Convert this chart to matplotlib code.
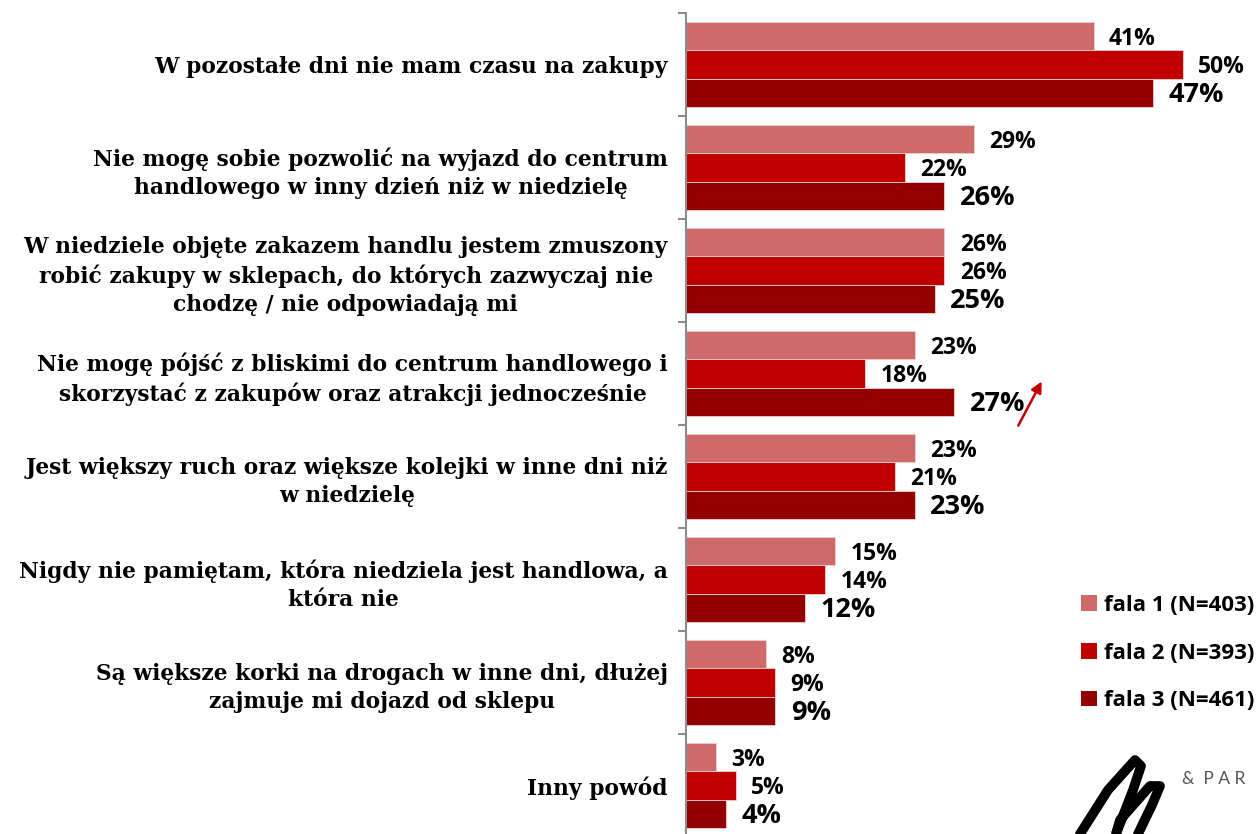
import numpy as np
import matplotlib
matplotlib.use("Agg")
import matplotlib.pyplot as plt
from matplotlib.patches import Patch

categories = [
    "W pozostałe dni nie mam czasu na zakupy",
    "Nie mogę sobie pozwolić na wyjazd do centrum\nhandlowego w inny dzień niż w niedzielę",
    "W niedziele objęte zakazem handlu jestem zmuszony\nrobić zakupy w sklepach, do których zazwyczaj nie\nchodzę / nie odpowiadają mi",
    "Nie mogę pójść z bliskimi do centrum handlowego i\nskorzystać z zakupów oraz atrakcji jednocześnie",
    "Jest większy ruch oraz większe kolejki w inne dni niż\nw niedzielę",
    "Nigdy nie pamiętam, która niedziela jest handlowa, a\nktóra nie",
    "Są większe korki na drogach w inne dni, dłużej\nzajmuje mi dojazd od sklepu",
    "Inny powód",
]
fala1 = [41, 29, 26, 23, 23, 15, 8, 3]
fala2 = [50, 22, 26, 18, 21, 14, 9, 5]
fala3 = [47, 26, 25, 27, 23, 12, 9, 4]
series_names = ["fala 1 (N=403)", "fala 2 (N=393)", "fala 3 (N=461)"]
colors = ["#CF6A6A", "#C00000", "#920000"]

W, H = 1256, 834
fig = plt.figure(figsize=(W / 100, H / 100), dpi=100)
ax = fig.add_axes([686 / W, -3 / H, 1 - 686 / W, 824 / H])

y = np.arange(len(categories))
bh = 0.272
series = [fala1, fala2, fala3]
for k, vals in enumerate(series):
    pos = y + (k - 1) * bh
    ax.barh(pos, vals, height=bh, color=colors[k], edgecolor="#f0d0d0", linewidth=0.6)
    fs = 19.5 if k == 2 else 16.5
    for p, v in zip(pos, vals):
        ax.annotate(f"{v}%", (v, p), xytext=(11, -1.5), textcoords="offset points",
                    ha="left", va="center", fontsize=fs, fontweight="bold",
                    family=["Open Sans", "DejaVu Sans"])

ax.set_xlim(0, (W - 686) / 9.94)
ax.set_ylim(len(categories) - 0.5, -0.5)

for s in ["top", "right", "bottom"]:
    ax.spines[s].set_visible(False)
ax.spines["left"].set_color("#8c8c8c")
ax.spines["left"].set_linewidth(1.5)
ax.set_xticks([])
ax.set_yticks(np.arange(len(categories) + 1) - 0.5)
ax.set_yticklabels([])
ax.tick_params(axis="y", which="major", length=6, width=1.5, color="#8c8c8c")
ax.set_yticks(y, minor=True)
ax.set_yticklabels(categories, minor=True, fontsize=15.7, fontweight="bold",
                   family="DejaVu Serif", multialignment="center", linespacing=1.35)
ax.tick_params(axis="y", which="minor", length=0, pad=13)

handles = [Patch(facecolor=c, edgecolor="none") for c in colors]
fig.legend(handles, series_names, loc="upper left", bbox_to_anchor=(1081 / W, 1 - 595 / H),
           frameon=False, handlelength=0.72, handleheight=0.72, handletextpad=0.3,
           labelspacing=1.2, borderpad=0, borderaxespad=0,
           prop={"family": ["Open Sans", "DejaVu Sans"], "weight": "bold", "size": 16})

# trend arrow
ax.annotate("", xy=(1043 / W, 1 - 379 / H), xytext=(1017 / W, 1 - 428 / H),
            xycoords="figure fraction", textcoords="figure fraction",
            arrowprops=dict(arrowstyle="-|>", color="#C00000", lw=1.8, mutation_scale=16))

# logo fragment
fig.text(1182 / W, 1 - 779 / H, "&  P A R", fontsize=12.5, color="#555555",
         family="Lato", va="center", ha="left")
lx = np.array([1080, 1108, 1135, 1141, 1133, 1116, 1120, 1150, 1160, 1152, 1138])
ly = np.array([834, 790, 760, 766, 790, 834, 820, 786, 786, 805, 834])
fig.add_artist(plt.Line2D(lx / W, 1 - ly / H, color="black", lw=7,
                          solid_capstyle="round", solid_joinstyle="round"))

fig.savefig("out.png", dpi=100)
